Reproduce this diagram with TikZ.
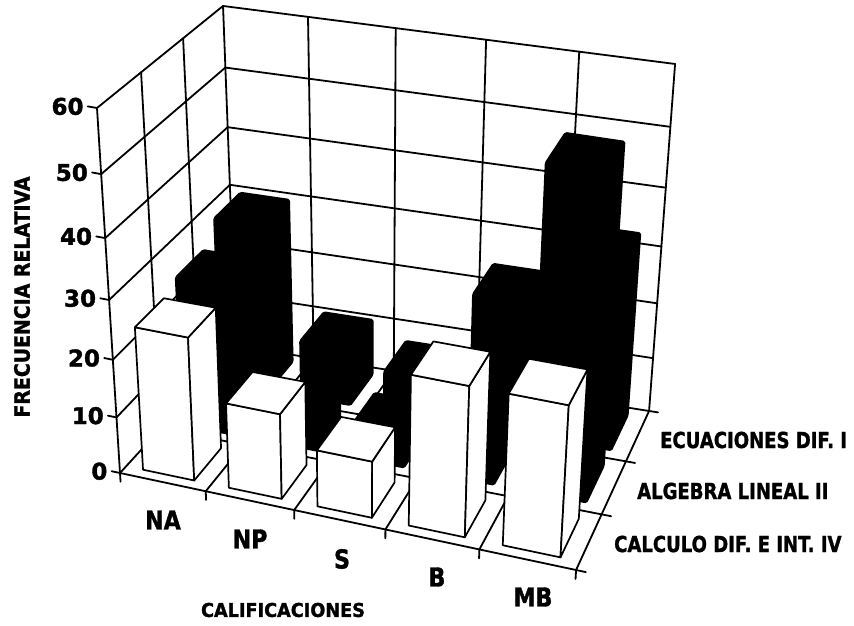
\documentclass[tikz,border=0pt]{standalone}
\usepackage{fontspec}
\usepackage{graphicx}
\setmainfont{DejaVu Sans}[BoldFont={DejaVu Sans Bold}, BoldFeatures={FakeBold=1.5}]
% projection: u in [0,5] (categories), v in [0,3] (series depth), h in [0,60]
\newcommand\PP[4]{%
 \pgfmathsetmacro\rsS{0.185*(#2)+0.003*(#2)*(#2)}%
 \pgfmathsetmacro\rsT{0.3583*(#3)-0.0083*(#3)*(#3)}%
 \pgfmathsetmacro\rsK{0.896*(#4)/60+0.104*((#4)/60)*((#4)/60)}%
 \pgfmathsetmacro\rsA{(1-\rsS)*(1-\rsT)}%
 \pgfmathsetmacro\rsB{\rsS*(1-\rsT)}%
 \pgfmathsetmacro\rsC{(1-\rsS)*\rsT}%
 \pgfmathsetmacro\rsD{\rsS*\rsT}%
 \pgfmathsetmacro\rsX{\rsA*(120-23*\rsK)+\rsB*(576+22*\rsK)+\rsC*(236-13*\rsK)+\rsD*(649+26*\rsK)}%
 \pgfmathsetmacro\rsY{\rsA*(473-365*\rsK)+\rsB*(570-375*\rsK)+\rsC*(346-340*\rsK)+\rsD*(411-347*\rsK)}%
 \coordinate (#1) at (\rsX,\rsY);%
}
\newcommand\BarPts[3]{%
 \PP{ba}{#1+0.2}{#2+0.15}{0}\PP{bb}{#1+0.8}{#2+0.15}{0}\PP{bc}{#1+0.8}{#2+0.85}{0}%
 \PP{tA}{#1+0.2}{#2+0.15}{#3}\PP{tB}{#1+0.8}{#2+0.15}{#3}%
 \PP{tC}{#1+0.8}{#2+0.85}{#3}\PP{tD}{#1+0.2}{#2+0.85}{#3}%
}
\newcommand\WBar[3]{%
 \BarPts{#1}{#2}{#3}%
 \filldraw[whitebar] (ba)--(bb)--(tB)--(tA)--cycle;
 \filldraw[whitebar] (bb)--(bc)--(tC)--(tB)--cycle;
 \filldraw[whitebar] (tA)--(tB)--(tC)--(tD)--cycle;
}
\newcommand\KBar[3]{%
 \BarPts{#1}{#2}{#3}%
 \filldraw[blackbar] (ba)--(bb)--(bc)--(tC)--(tD)--(tA)--cycle;
}
\tikzset{
 grid/.style={line width=1.8pt, line cap=round},
 whitebar/.style={fill=white, draw=black, line width=1.7pt, line join=round},
 blackbar/.style={fill=black, draw=black, line width=1.5pt, line join=round, rounded corners=1.5pt},
 num/.style={font=\fontsize{23}{23}\selectfont\bfseries, inner sep=0pt},
 cat/.style={font=\fontsize{26}{26}\selectfont\bfseries, inner sep=0pt},
 ser/.style={font=\fontsize{22}{22}\selectfont\bfseries, inner sep=0pt},
 ttl/.style={font=\fontsize{19}{19}\selectfont\bfseries, inner sep=0pt},
 ytl/.style={font=\fontsize{21}{21}\selectfont\bfseries, inner sep=0pt}
}
\begin{document}
\begin{tikzpicture}[x=1pt,y=-1pt]
\useasboundingbox (0,0) rectangle (854,626);
\fill[white] (0,0) rectangle (854,626);
% ---- left wall (u=0) ----
\foreach \h in {10,20,...,60}{\PP{la}{0}{0}{\h}\PP{lb}{0}{3}{\h}\draw[grid] (la)--(lb);}
\foreach \v in {0,1,2,3}{\PP{la}{0}{\v}{0}\PP{lb}{0}{\v}{60}\draw[grid] (la)--(lb);}
% ---- back wall (v=3) ----
\foreach \h in {0,10,...,60}{\PP{ka}{0}{3}{\h}\PP{kb}{5}{3}{\h}\draw[grid] (ka)--(kb);}
\foreach \u in {1,2,3,4,5}{\PP{ka}{\u}{3}{0}\PP{kb}{\u}{3}{60}\draw[grid] (ka)--(kb);}
% ---- floor ----
\foreach \u in {0,1,2,3,4,5}{\PP{fa}{\u}{0}{0}\PP{fb}{\u}{3}{0}\draw[grid] (fa)--(fb);}
\foreach \v in {0,1,2}{\PP{fa}{0}{\v}{0}\PP{fb}{5}{\v}{0}\draw[grid] (fa)--(fb);}
% ticks and value labels
\foreach \h in {0,10,...,60}{\PP{ta}{0}{0}{\h}\PP{tb}{-0.1}{0}{\h}\draw[grid] (ta)--(tb);
  \node[num, anchor=east] (n\h) at ([xshift=-4pt]tb) {\h};}
\foreach \u in {0,1,2,3,4,5}{\PP{ta}{\u}{0}{0}\PP{tb}{\u}{0}{-1.6}\draw[grid] (ta)--(tb);}
\foreach \v in {0,1,2,3}{\PP{ta}{5}{\v}{0}\PP{tb}{5.1}{\v}{0}\draw[grid] (ta)--(tb);}
% ---- bars: back row (ECUACIONES DIF. I) ----
\KBar{0}{2}{30}\KBar{1}{2}{10.5}\KBar{2}{2}{7.5}\KBar{3}{2}{24}\KBar{4}{2}{33}
% ---- middle row (ALGEBRA LINEAL II) ----
\KBar{0}{1}{26.5}\KBar{1}{1}{5}\KBar{2}{1}{6}\KBar{3}{1}{9}\KBar{4}{1}{55}
% ---- front row (CALCULO DIF. E INT. IV) ----
\WBar{0}{0}{25}\WBar{1}{0}{15}\WBar{2}{0}{10}\WBar{3}{0}{26}\WBar{4}{0}{26}
% ---- labels ----
\node[cat] (cNA) at (163,520) {\scalebox{0.85}[1]{NA}};
\node[cat] (cNP) at (250,539) {\scalebox{0.85}[1]{NP}};
\node[cat] (cS) at (342,559) {\scalebox{0.85}[1]{S}};
\node[cat] (cB) at (437,577) {\scalebox{0.85}[1]{B}};
\node[cat] (cMB) at (533,597) {\scalebox{0.85}[1]{MB}};
\node[ttl] (xlab) at (283,610) {\scalebox{0.93}[1]{CALIFICACIONES}};
\node[ytl, rotate=90] (ylab) at (22,297) {\scalebox{0.9}[1]{FRECUENCIA RELATIVA}};
\node[ser, anchor=west] (s1) at (660,440) {\scalebox{0.82}[1]{ECUACIONES DIF. I}};
\node[ser, anchor=west] (s2) at (637,491) {\scalebox{0.82}[1]{ALGEBRA LINEAL II}};
\node[ser, anchor=west] (s3) at (614,544) {\scalebox{0.82}[1]{CALCULO DIF. E INT. IV}};
\end{tikzpicture}
\end{document}
